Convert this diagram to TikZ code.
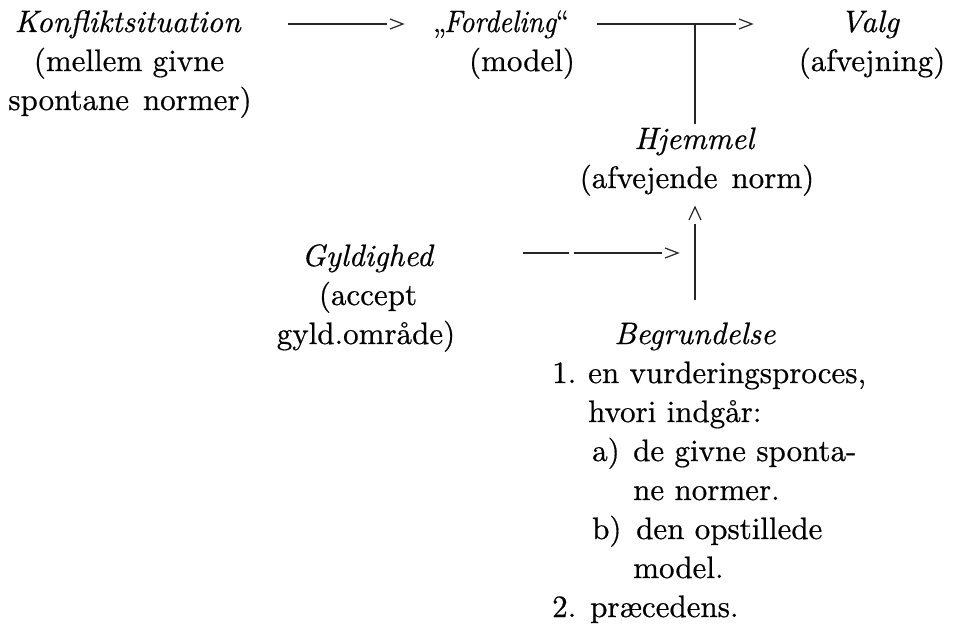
\documentclass[tikz,border=0pt]{standalone}
\usepackage{fontspec}
\setmainfont{lmroman10-regular.otf}[ItalicFont=lmroman10-italic.otf, FakeBold=0.6]
\newfontfamily\narrowlm{lmroman10-regular.otf}[ItalicFont=lmroman10-italic.otf, FakeBold=0.6, FakeStretch=0.9]
\begin{document}
\begin{tikzpicture}[x=1pt,y=-1pt,
  txt/.style={inner sep=0pt, anchor=base, font=\fontsize{31}{39}\selectfont},
  txtw/.style={inner sep=0pt, anchor=base west, font=\fontsize{31}{39}\selectfont},
  ln/.style={line width=1.2pt, draw=black!85},
  dln/.style={ln, dash pattern=on 46pt off 5pt on 90pt off 0pt},
  chevR/.pic={\draw[ln] (-13,-5) -- (0,0) -- (-13,5);},
  chevU/.pic={\draw[ln] (-6,13) -- (0,0) -- (6,13);}]
\useasboundingbox[fill=white] (0,0) rectangle (953,627);

% top row
\node[txt] (k1) at (128,32) {\textit{Konfliktsituation}};
\node[txt] (k2) at (129,71) {(mellem givne};
\node[txt] (k3) at (130,110) {spontane\hspace{0.45em}normer)};

\node[txt, font=\narrowlm\fontsize{31}{39}\selectfont] (f1) at (501,32) {„\kern-2pt\textit{Fordeling}\kern-1pt“};
\node[txt] (f2) at (522,71) {(model)};

\node[txt] (v1) at (870,32) {\textit{Valg}};
\node[txt] (v2) at (872,71) {(afvejning)};

% Hjemmel
\node[txt] (h1) at (695,149) {\textit{Hjemmel}};
\node[txt] (h2) at (697,188) {(afvejende\hspace{0.45em}norm)};

% Gyldighed
\node[txt] (g1) at (368,266) {\textit{Gyldighed}};
\node[txt] (g2) at (368,305) {(accept};
\node[txt] (g3) at (366,344) {gyld.område)};

% Begrundelse
\node[txt] (b0) at (695,344) {\textit{Begrundelse}};
\node[txtw] (n1) at (552,383) {1.};
\node[txtw] (t1) at (588,383) {en vurderingsproces,};
\node[txtw] (t2) at (588,422) {hvori indgår:};
\node[txtw] (na) at (592,461) {a)};
\node[txtw] (ta) at (633,461) {de givne sponta-};
\node[txtw] (t4) at (633,500) {ne normer.};
\node[txtw] (nb) at (592,539) {b)};
\node[txtw] (tb) at (636,539) {den opstillede};
\node[txtw] (t6) at (633,578) {model.};
\node[txtw] (n2) at (552,617) {2.};
\node[txtw] (t7) at (590,617) {præcedens.};

% connectors
\coordinate (a1s) at (288,24);
\coordinate (a1e) at (403,24);
\draw[ln] (a1s) -- ([xshift=-16pt]a1e);
\pic at (a1e) {chevR};

\coordinate (a2s) at (597,24);
\coordinate (a2e) at (752,24);
\coordinate (tkT) at (695,24);
\coordinate (tkB) at (695,124);
\draw[ln] (a2s) -- ([xshift=-16pt]a2e);
\pic at (a2e) {chevR};
\draw[ln] (tkT) -- (tkB);

\coordinate (upA) at (695,207);
\coordinate (upT) at (695,224);
\coordinate (upB) at (695,300);
\draw[ln] (upB) -- (upT);
\pic at (upA) {chevU};

\coordinate (ds) at (523,253);
\coordinate (de) at (678,253);
\draw[dln] (ds) -- ([xshift=-16pt]de);
\pic at (de) {chevR};
\end{tikzpicture}
\end{document}
